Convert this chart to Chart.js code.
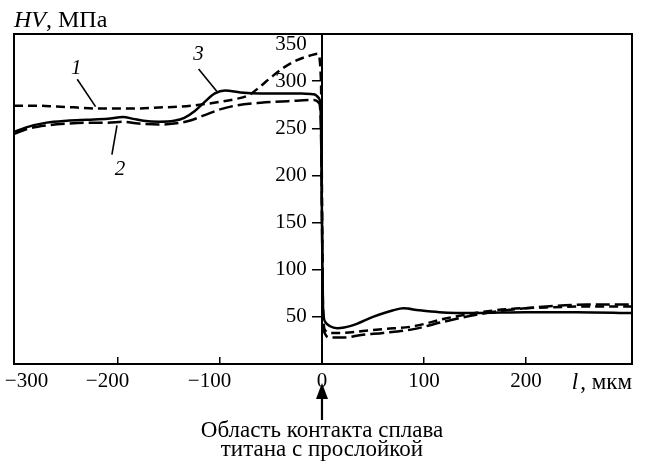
<!DOCTYPE html>
<html><head><meta charset="utf-8">
<script src="https://cdn.jsdelivr.net/npm/chart.js@4/dist/chart.umd.min.js"></script>
<style>html,body{margin:0;padding:0;background:#fff;}#wrap{width:649px;height:461px;}</style>
</head><body><div id="wrap"><canvas id="c" width="649" height="461"></canvas></div>
<script>
// ---- data (l in µm, HV in MPa) ----
const curve1X = [-302,-280,-260,-240,-220,-200,-180,-160,-140,-120,-100,-85,-72,-62,-50,-38,-25,-12,-4,-1,0,1,3,8,20,40,60,90,120,150,180,220,260,304];
const curve1Y = [274,274,273,272,271,271,271,272,273,275,278,281,285,293,304,314,322,327,329,300,180,60,36,33,33,35,37,40,48,54,58,60,61,61];
const curve2X = [-302,-290,-270,-250,-230,-210,-195,-180,-160,-145,-130,-115,-100,-85,-60,-30,-8,-3,-1,0,1,3,8,20,40,60,90,120,150,180,220,260,304];
const curve2Y = [244,249,253,255,256,256,257,255,254,255,258,264,270,274,277,279,280,277,250,150,50,32,28,28,31,33,37,45,52,57,61,63,63];
const curve3X = [-302,-290,-270,-250,-230,-210,-195,-185,-175,-160,-145,-135,-125,-115,-105,-95,-80,-60,-40,-20,-8,-3,-1,0,1,3,8,15,30,50,70,80,95,115,150,200,250,304];
const curve3Y = [246,251,256,258,259,260,262,260,258,257,258,261,268,278,287,290,288,287,287,287,286,282,260,150,60,45,40,38,41,50,57,59,57,55,54,55,55,54];
const curveNames = ['1','2','3'];
const xTickValues = [-300,-200,-100,0,100,200,300];
const xTickLabelsHidden = [300];
const xTickMarksHidden = [-300,300];
const yTickValues = [50,100,150,200,250,300,350];
const xTitle = ['l', ', мкм'];
const yTitle = ['HV', ', МПа'];
const noteLines = ['Область контакта сплава', 'титана с прослойкой'];
// label anchor + leader (data units)
const curveLabelPos = { '1': [-241, 313], '3': [-121, 328], '2': [-198, 206] };
const leaderLines = { '1': [[-240, 302], [-222, 273]], '3': [[-121, 313], [-103, 289]], '2': [[-206, 222], [-201, 253]] };

const zip = (xs, ys) => xs.map((x, i) => ({ x, y: ys[i] }));
const SERIF = '"Liberation Serif", "DejaVu Serif", serif';

const decor = {
  id: 'decor',
  afterDraw(chart) {
    const { ctx, chartArea: a, scales } = chart;
    const sx = scales.x, sy = scales.y;
    ctx.save();
    ctx.strokeStyle = '#000';
    ctx.lineWidth = 2;
    ctx.strokeRect(a.left, a.top, a.right - a.left, a.bottom - a.top);
    ctx.fillStyle = '#000';
    // y title
    ctx.textBaseline = 'alphabetic';
    ctx.textAlign = 'left';
    ctx.font = 'italic 24px ' + SERIF;
    ctx.fillText(yTitle[0], a.left, 27);
    let w = ctx.measureText(yTitle[0]).width;
    ctx.font = '24px ' + SERIF;
    ctx.fillText(yTitle[1], a.left + w, 27);
    // x title
    ctx.font = '23px ' + SERIF;
    const w2 = ctx.measureText(xTitle[1]).width;
    ctx.fillText(xTitle[1], a.right - w2, 389);
    ctx.font = 'italic 23px ' + SERIF;
    const w1 = ctx.measureText(xTitle[0]).width;
    ctx.fillText(xTitle[0], a.right - w2 - w1 - 2, 389);
    // curve labels
    ctx.font = 'italic 21px ' + SERIF;
    ctx.textAlign = 'center';
    ctx.textBaseline = 'middle';
    ctx.lineWidth = 1.6;
    curveNames.forEach(n => {
      const p = curveLabelPos[n];
      ctx.fillText(n, sx.getPixelForValue(p[0]), sy.getPixelForValue(p[1]));
      const l = leaderLines[n];
      ctx.beginPath();
      ctx.moveTo(sx.getPixelForValue(l[0][0]), sy.getPixelForValue(l[0][1]));
      ctx.lineTo(sx.getPixelForValue(l[1][0]), sy.getPixelForValue(l[1][1]));
      ctx.stroke();
    });
    // arrow at l = 0
    const x0 = sx.getPixelForValue(0);
    ctx.beginPath();
    ctx.moveTo(x0, a.bottom + 19);
    ctx.lineTo(x0 - 6, a.bottom + 35);
    ctx.lineTo(x0 + 6, a.bottom + 35);
    ctx.closePath();
    ctx.fill();
    ctx.lineWidth = 2.2;
    ctx.beginPath();
    ctx.moveTo(x0, a.bottom + 33);
    ctx.lineTo(x0, a.bottom + 56);
    ctx.stroke();
    // note
    ctx.font = '23px ' + SERIF;
    ctx.textBaseline = 'alphabetic';
    ctx.fillText(noteLines[0], x0, 437);
    ctx.fillText(noteLines[1], x0, 456);
    ctx.restore();
  }
};

const fmtX = v => {
  if (xTickLabelsHidden.includes(v)) return '';
  if (v === xTickValues[0]) return '\u2003\u2212' + Math.abs(v);
  if (v < 0) return '\u2212' + Math.abs(v) + '\u2003';
  return String(v);
};

new Chart(document.getElementById('c'), {
  type: 'line',
  data: {
    datasets: [
      { label: curveNames[0], data: zip(curve1X, curve1Y), borderDash: [9, 5] },
      { label: curveNames[1], data: zip(curve2X, curve2Y), borderDash: [14, 5] },
      { label: curveNames[2], data: zip(curve3X, curve3Y) }
    ].map(d => Object.assign({ borderColor: '#000', borderWidth: 2.5, pointRadius: 0, cubicInterpolationMode: 'monotone', fill: false }, d))
  },
  options: {
    responsive: false,
    animation: false,
    layout: { padding: { left: 14, right: 17, top: 34, bottom: 57 } },
    plugins: { legend: { display: false }, tooltip: { enabled: false } },
    scales: {
      x: {
        type: 'linear', position: 'bottom', min: -302, max: 304,
        afterBuildTicks: s => { s.ticks = xTickValues.map(v => ({ value: v })); },
        ticks: {
          autoSkip: false, maxRotation: 0,
          padding: 12, color: '#000', font: { family: SERIF, size: 21 },
          callback: v => fmtX(v)
        },
        grid: {
          drawOnChartArea: false, drawTicks: true, tickLength: -7, lineWidth: 1.5,
          color: c => (c.tick && xTickMarksHidden.includes(c.tick.value)) ? 'rgba(0,0,0,0)' : '#000'
        },
        border: { display: true, color: '#000', width: 2 },
        afterFit: s => { s.height = 40; s.paddingLeft = 0; s.paddingRight = 0; }
      },
      y: {
        type: 'linear', position: { x: 0 }, min: 0, max: 350,
        afterBuildTicks: s => { s.ticks = yTickValues.map(v => ({ value: v })); },
        ticks: { display: false },
        grid: { drawOnChartArea: false, drawTicks: true, tickLength: 9, color: '#000', lineWidth: 1.5 },
        border: { display: true, color: '#000', width: 2 },
        afterFit: s => { s.paddingTop = 0; s.paddingBottom = 0; }
      },
      yl: {
        type: 'linear', position: { x: -15 }, min: 0, max: 350,
        afterBuildTicks: s => { s.ticks = yTickValues.map(v => ({ value: v })); },
        ticks: {
          color: '#000', font: { family: SERIF, size: 21, lineHeight: 1.0 },
          callback: v => v === yTickValues[yTickValues.length - 1] ? ['', String(v)] : String(v)
        },
        grid: { display: false },
        border: { display: false },
        afterFit: s => { s.paddingTop = 0; s.paddingBottom = 0; }
      }
    }
  },
  plugins: [decor]
});
</script></body></html>
